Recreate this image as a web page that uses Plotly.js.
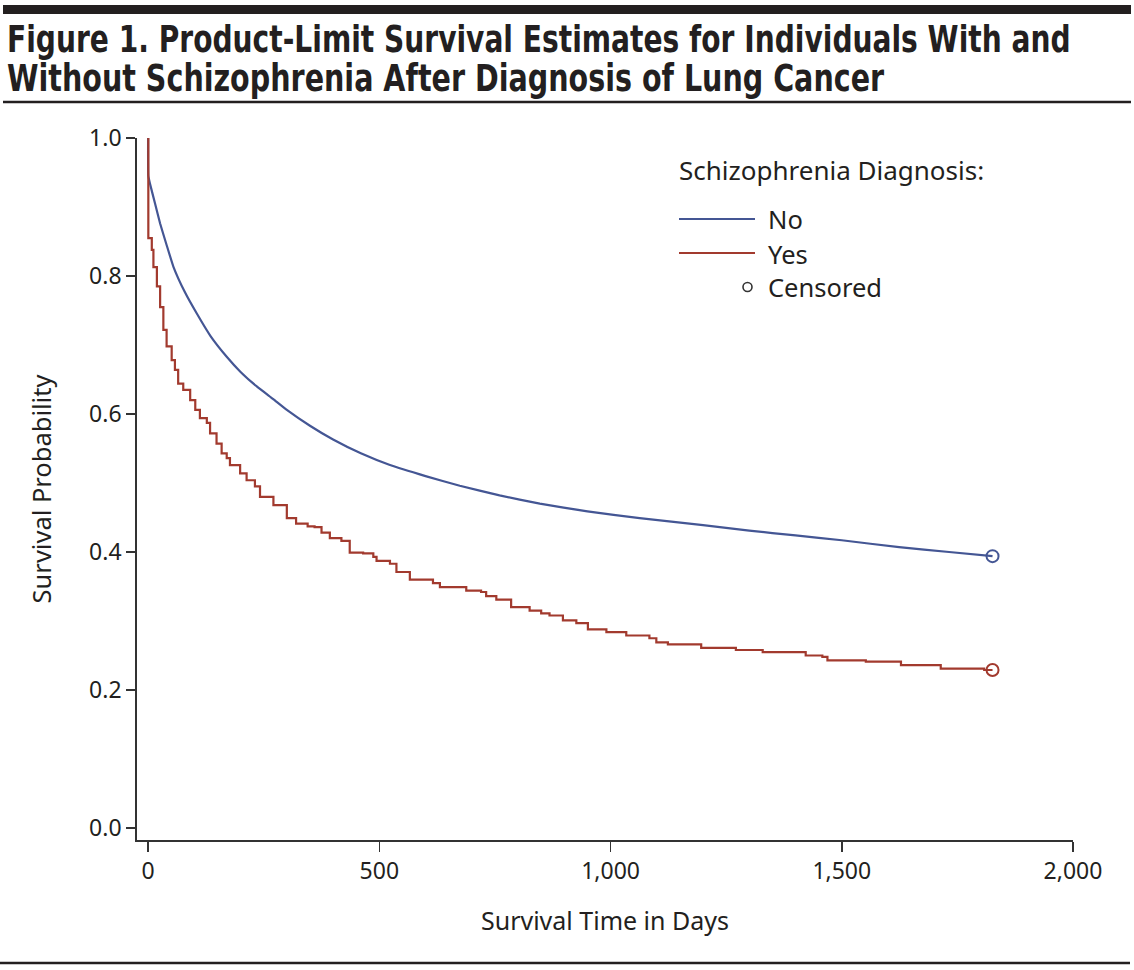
<!DOCTYPE html>
<html>
<head>
<meta charset="utf-8">
<script src="https://cdn.plot.ly/plotly-3.0.1.min.js"></script>
<style>
  html, body { margin: 0; padding: 0; background: #ffffff; }
  #chart { width: 1134px; height: 970px; }
</style>
</head>
<body>
<div id="chart"></div>
<script>
// ---- Data ----
// Schizophrenia Diagnosis: No (blue)
const noDays = [0, 0.5, 4, 15, 26, 40, 55, 80, 105, 135, 170, 200, 235, 270, 300, 350, 400, 460, 523, 600, 674, 760, 847, 950, 1063, 1200, 1300, 1400, 1500, 1624, 1732, 1826];
const noSurv = [1.0, 0.945, 0.934, 0.905, 0.876, 0.845, 0.813, 0.776, 0.746, 0.713, 0.683, 0.661, 0.640, 0.622, 0.606, 0.583, 0.563, 0.543, 0.526, 0.510, 0.496, 0.482, 0.470, 0.459, 0.449, 0.439, 0.431, 0.424, 0.417, 0.407, 0.400, 0.394];

// Schizophrenia Diagnosis: Yes (red), step function
const yesDays = [0, 0.5, 8, 11.5, 19, 26, 33, 40, 51, 58, 65, 76, 91, 102, 112, 127, 134, 148, 159, 170, 177, 199, 213, 231, 242, 271, 300, 320, 345, 360, 375, 393, 418, 436, 465, 487, 494, 523, 537, 566, 616, 631, 688, 720, 731, 753, 785, 825, 850, 868, 897, 926, 951, 991, 1034, 1084, 1099, 1124, 1196, 1271, 1329, 1422, 1458, 1469, 1552, 1628, 1714, 1808, 1826];
const yesSurv = [1.0, 0.855, 0.838, 0.813, 0.785, 0.755, 0.722, 0.698, 0.678, 0.664, 0.644, 0.635, 0.620, 0.606, 0.594, 0.587, 0.572, 0.557, 0.543, 0.536, 0.526, 0.514, 0.504, 0.495, 0.480, 0.468, 0.449, 0.441, 0.437, 0.436, 0.428, 0.420, 0.416, 0.399, 0.398, 0.393, 0.387, 0.383, 0.371, 0.360, 0.355, 0.349, 0.344, 0.342, 0.336, 0.331, 0.320, 0.315, 0.311, 0.308, 0.301, 0.297, 0.288, 0.284, 0.279, 0.275, 0.269, 0.266, 0.261, 0.258, 0.255, 0.250, 0.248, 0.243, 0.241, 0.236, 0.231, 0.229, 0.229];

// Censored observations (end of follow-up)
const censDays = [1826, 1826];
const censSurv = [0.394, 0.229];

const xTickVals = [0, 500, 1000, 1500, 2000];
const xTickText = ['0', '500', '1,000', '1,500', '2,000'];
const yTickVals = [0.0, 0.2, 0.4, 0.6, 0.8, 1.0];
const yTickText = ['0.0', '0.2', '0.4', '0.6', '0.8', '1.0'];

const titleLine1 = 'Figure 1. Product-Limit Survival Estimates for Individuals With and';
const titleLine2 = 'Without Schizophrenia After Diagnosis of Lung Cancer';
const legendTitle = 'Schizophrenia Diagnosis:';
const seriesNames = ['No', 'Yes'];
const censLabel = 'Censored';

// ---- Styling ----
const BLUE = '#445694';
const RED = '#A23A2E';
const INK = '#231f20';
const AXIS = '#333333';
const BODY_FONT = '"Noto Sans", "Open Sans", sans-serif';
const TITLE_FONT = '"DejaVu Sans Condensed", "DejaVu Sans", sans-serif';

// Plot-area geometry (pixels)
const L = 137, R = 1073, T = 138, B = 840;
const W = R - L, H = B - T;
const px = x => (x - L) / W;
const py = y => (B - y) / H;

const traces = [
  {
    x: noDays, y: noSurv, type: 'scatter', mode: 'lines', name: seriesNames[0],
    line: { color: BLUE, width: 2.2, shape: 'spline', smoothing: 0.35 },
    showlegend: false, hoverinfo: 'x+y'
  },
  {
    x: yesDays, y: yesSurv, type: 'scatter', mode: 'lines', name: seriesNames[1],
    line: { color: RED, width: 2.2, shape: 'hv' },
    showlegend: false, hoverinfo: 'x+y'
  },
  {
    x: censDays, y: censSurv, type: 'scatter', mode: 'markers', name: censLabel,
    marker: { symbol: 'circle-open', size: 12, color: [BLUE, RED], line: { width: 2, color: [BLUE, RED] } },
    showlegend: false, cliponaxis: false, hoverinfo: 'x+y'
  }
];

const annotations = [
  { text: '<b>' + titleLine1 + '</b>', xref: 'paper', yref: 'paper', x: px(5), y: py(40), xanchor: 'left', yanchor: 'middle', align: 'left', showarrow: false, font: { family: TITLE_FONT, size: 37, color: INK } },
  { text: '<b>' + titleLine2 + '</b>', xref: 'paper', yref: 'paper', x: px(5), y: py(78), xanchor: 'left', yanchor: 'middle', align: 'left', showarrow: false, font: { family: TITLE_FONT, size: 37, color: INK } },
  { text: legendTitle, xref: 'paper', yref: 'paper', x: px(677), y: py(170), xanchor: 'left', yanchor: 'middle', align: 'left', showarrow: false, font: { family: BODY_FONT, size: 26, color: INK } },
  { text: seriesNames[0], xref: 'paper', yref: 'paper', x: px(766), y: py(219), xanchor: 'left', yanchor: 'middle', align: 'left', showarrow: false, font: { family: BODY_FONT, size: 25.5, color: INK } },
  { text: seriesNames[1], xref: 'paper', yref: 'paper', x: px(766), y: py(254), xanchor: 'left', yanchor: 'middle', align: 'left', showarrow: false, font: { family: BODY_FONT, size: 25.5, color: INK } },
  { text: censLabel, xref: 'paper', yref: 'paper', x: px(766), y: py(287), xanchor: 'left', yanchor: 'middle', align: 'left', showarrow: false, font: { family: BODY_FONT, size: 25.5, color: INK } }
];

const shapes = [
  // thick bar at top
  { type: 'rect', xref: 'paper', yref: 'paper', x0: px(3), x1: px(1131), y0: py(14), y1: py(5), fillcolor: INK, line: { width: 0 } },
  // rule under title
  { type: 'line', xref: 'paper', yref: 'paper', x0: px(3), x1: px(1131), y0: py(102), y1: py(102), line: { color: INK, width: 2.5 } },
  // rule at bottom
  { type: 'line', xref: 'paper', yref: 'paper', x0: px(0), x1: px(1130), y0: py(963), y1: py(963), line: { color: INK, width: 2.5 } },
  // legend samples
  { type: 'line', xref: 'paper', yref: 'paper', x0: px(679), x1: px(755), y0: py(219), y1: py(219), line: { color: BLUE, width: 2 } },
  { type: 'line', xref: 'paper', yref: 'paper', x0: px(679), x1: px(755), y0: py(253), y1: py(253), line: { color: RED, width: 2 } },
  { type: 'circle', xref: 'paper', yref: 'paper', x0: px(743), x1: px(752), y0: py(291.5), y1: py(282.5), line: { color: AXIS, width: 1.6 } }
];

const layout = {
  width: 1134, height: 970,
  margin: { l: L, r: 1134 - R, t: T, b: 970 - B, pad: 0 },
  paper_bgcolor: '#ffffff', plot_bgcolor: '#ffffff',
  font: { family: BODY_FONT, size: 24, color: INK },
  showlegend: false,
  xaxis: {
    range: [-24, 2000], tickvals: xTickVals, ticktext: xTickText,
    showline: true, linecolor: AXIS, linewidth: 1.8, mirror: false,
    ticks: 'outside', ticklen: 10, tickwidth: 1.5, tickcolor: AXIS,
    showgrid: false, zeroline: false,
    tickfont: { family: BODY_FONT, size: 23, color: INK },
    title: { text: 'Survival Time in Days', font: { family: BODY_FONT, size: 25, color: INK }, standoff: 27 }
  },
  yaxis: {
    range: [-0.0174, 1.0], tickvals: yTickVals, ticktext: yTickText,
    showline: true, linecolor: AXIS, linewidth: 1.8, mirror: false,
    ticks: 'outside', ticklen: 9, tickwidth: 1.5, tickcolor: AXIS,
    showgrid: false, zeroline: false,
    tickfont: { family: BODY_FONT, size: 23, color: INK },
    title: { text: 'Survival Probability', font: { family: BODY_FONT, size: 25.5, color: INK }, standoff: 30 }
  },
  annotations: annotations,
  shapes: shapes
};

// Target rendered widths of the two condensed title lines (the original uses a condensed face)
const titleWidths = [1064, 878];

Plotly.newPlot('chart', traces, layout, { displayModeBar: false, staticPlot: true }).then(function (gd) {
  const groups = gd.querySelectorAll('g.annotation');
  for (let i = 0; i < titleWidths.length && i < groups.length; i++) {
    const t = groups[i].querySelector('text.annotation-text');
    if (!t) continue;
    t.style.fontStretch = 'condensed';
    const bb = t.getBBox();
    const s = titleWidths[i] / bb.width;
    if (Math.abs(s - 1) > 0.01) {
      const x0 = bb.x;
      t.setAttribute('transform', 'translate(' + x0 + ',0) scale(' + s + ',1) translate(' + (-x0) + ',0)');
    }
    const bg = groups[i].querySelector('rect.bg');
    if (bg) bg.setAttribute('width', titleWidths[i] + 4);
  }
});
</script>
</body>
</html>
